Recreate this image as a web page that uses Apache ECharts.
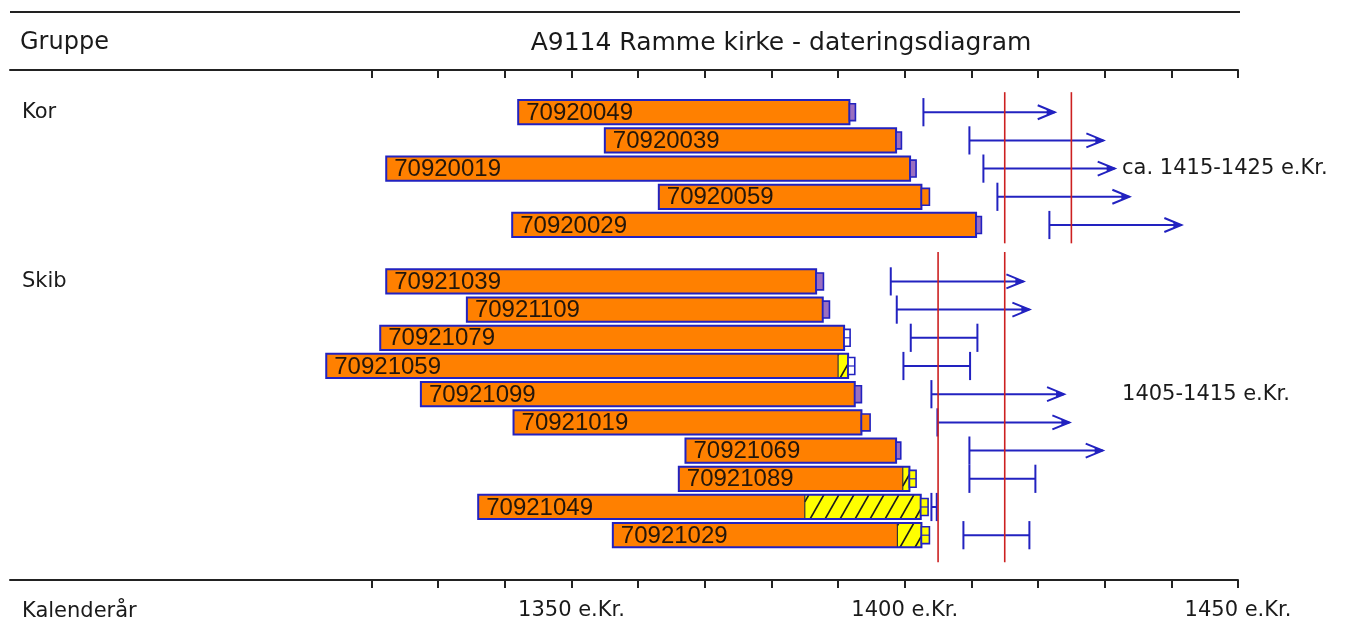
<!DOCTYPE html>
<html>
<head>
<meta charset="utf-8">
<script src="https://cdn.jsdelivr.net/npm/echarts@6/dist/echarts.min.js"></script>
<style>
html,body{margin:0;padding:0;background:#fff;}
#chart{width:1346px;height:632px;}
</style>
</head>
<body>
<div id="chart"></div>
<script>
// ---------- data ----------
const sampleIds = ['70920049','70920039','70920019','70920059','70920029',
  '70921039','70921109','70921079','70921059','70921099','70921019','70921069','70921089','70921049','70921029'];
const sampleGroup = [0,0,0,0,0, 1,1,1,1,1,1,1,1,1,1];
const firstRing = [1342.0,1355.0,1322.2,1363.1,1341.1, 1322.2,1334.3,1321.3,1313.2,1327.4,1341.3,1367.1,1366.1,1336.0,1356.2];
const heartwoodEnd = [1391.7,1398.7,1400.8,1402.5,1410.7, 1386.7,1387.7,1390.9,1390.0,1392.5,1393.5,1398.7,1399.7,1385.0,1398.9];
const sapwoodEnd = [null,null,null,null,null, null,null,null,1391.5,null,null,null,1400.7,1402.4,1402.5];
const lastRingEnd = [1392.6,1399.5,1401.7,1403.7,1411.5, 1387.8,1388.7,1391.8,1392.5,1393.5,1394.8,1399.4,1401.7,1403.5,1403.7];
const lastRingType = ['p','p','p','o','p', 'p','p','w','w','p','o','p','y','y','y'];
const fellingFrom = [1402.8,1409.7,1411.8,1413.9,1421.7, 1397.9,1398.8,1400.9,1399.8,1404.0,1404.9,1409.7,1409.7,1404.0,1408.8];
const fellingTo = [1422.5,1429.8,1431.5,1433.7,1441.5, 1417.8,1418.7,1410.9,1409.8,1423.9,1424.7,1429.7,1419.6,1404.8,1418.7];
const fellingOpen = [true,true,true,true,true, true,true,false,false,true,true,true,false,false,false];

const groupNames = ['Kor','Skib'];
const groupFirstRow = [0, 6];
const groupDating = [[1415,1425],[1405,1415]];
const groupResult = ['ca. 1415-1425 e.Kr.','1405-1415 e.Kr.'];
const groupResultRow = [2, 10];

const tickYears = [1320,1330,1340,1350,1360,1370,1380,1390,1400,1410,1420,1430,1440,1450];
const labelYears = [1350,1400,1450];

const titleText = 'A9114 Ramme kirke - dateringsdiagram';
const groupHeader = 'Gruppe';
const axisName = 'Kalenderår';

// ---------- styles ----------
const ORANGE = '#ff8000', YELLOW = '#ffff00', BLUE = '#2222c0', RED = '#cc2020', TXT = '#1a1a1a';
const boxFill = {p:'#9a6fc0', o:ORANGE, w:'#ffffff', y:YELLOW};
const redOverhang = [[0.71,0.65],[1.04,0.96]];
const resultLabelYear = 1432.6;
const HFONT = '"DejaVu Sans", sans-serif';

// rows
const groupCounts = groupNames.map((g,gi)=>sampleGroup.filter(x=>x===gi).length);
const rows = [];
{ const seen=[0,0]; sampleGroup.forEach(g=>{ rows.push(groupFirstRow[g]+seen[g]); seen[g]++; }); }

function hatch(x1,y1,x2,y2){
  const out=[]; const h=y2-y1; const dx=h*0.57; const sp=15;
  let bx=Math.floor((x1-dx)/sp)*sp;
  for(; bx<x2; bx+=sp){
    const t0=Math.max(0,(x1-bx)/dx), t1=Math.min(1,(x2-bx)/dx);
    if(t1>t0){
      out.push({type:'line',shape:{x1:bx+dx*t0,y1:y2-h*t0,x2:bx+dx*t1,y2:y2-h*t1},
        style:{stroke:'#1a1a1a',lineWidth:1.7}});
    }
  }
  return out;
}

function renderSample(params, api){
  const i = params.dataIndex;
  const row = rows[i];
  const rowH = Math.abs(api.size([0,1])[1]);
  const c = api.coord([firstRing[i], row]);
  const cy = c[1];
  const x0 = c[0];
  const xH = api.coord([heartwoodEnd[i], row])[0];
  const xS = sapwoodEnd[i]!=null ? api.coord([sapwoodEnd[i], row])[0] : xH;
  const xL = api.coord([lastRingEnd[i], row])[0];
  const bh = rowH*0.86;
  const y1 = cy-bh/2, y2 = cy+bh/2;
  const ch = [];
  ch.push({type:'rect',shape:{x:x0,y:y1,width:xH-x0,height:bh},style:{fill:ORANGE}});
  if(sapwoodEnd[i]!=null){
    ch.push({type:'rect',shape:{x:xH,y:y1,width:xS-xH,height:bh},style:{fill:YELLOW}});
    hatch(xH,y1,xS,y2).forEach(l=>ch.push(l));
    ch.push({type:'line',shape:{x1:xH,y1:y1,x2:xH,y2:y2},style:{stroke:'#333',lineWidth:1.2}});
  }
  ch.push({type:'rect',shape:{x:x0,y:y1,width:xS-x0,height:bh},style:{fill:null,stroke:BLUE,lineWidth:2}});
  // last ring box
  const boxH = rowH*0.6;
  ch.push({type:'rect',shape:{x:xS,y:cy-boxH/2,width:Math.max(xL-xS,3),height:boxH},
    style:{fill:boxFill[lastRingType[i]],stroke:BLUE,lineWidth:1.6}});
  if(lastRingType[i]==='w' || (lastRingType[i]==='y' && sapwoodEnd[i]!=null && xL-xS<8)){
    ch.push({type:'line',shape:{x1:xS,y1:cy,x2:xL,y2:cy},style:{stroke:BLUE,lineWidth:1.2}});
  }
  // label
  ch.push({type:'text',style:{x:x0+8,y:cy+1,text:sampleIds[i],fill:'#24160a',
    font:'24px "Liberation Sans", Arial, sans-serif',verticalAlign:'middle',align:'left'}});
  // felling estimate
  const a = api.coord([fellingFrom[i], row])[0];
  const b = api.coord([fellingTo[i], row])[0];
  const tk = rowH*0.5;
  ch.push({type:'line',shape:{x1:a,y1:cy,x2:b,y2:cy},style:{stroke:BLUE,lineWidth:2}});
  ch.push({type:'line',shape:{x1:a,y1:cy-tk,x2:a,y2:cy+tk},style:{stroke:BLUE,lineWidth:2}});
  if(fellingOpen[i]){
    ch.push({type:'polyline',shape:{points:[[b-17,cy-7],[b,cy],[b-17,cy+7]]},style:{stroke:BLUE,lineWidth:2,fill:null}});
    ch.push({type:'polygon',shape:{points:[[b-8,cy-3.5],[b+1,cy],[b-8,cy+3.5]]},style:{fill:BLUE}});
  } else {
    ch.push({type:'line',shape:{x1:b,y1:cy-tk,x2:b,y2:cy+tk},style:{stroke:BLUE,lineWidth:2}});
  }
  return {type:'group',children:ch};
}

function renderGroup(params, api){
  const g = params.dataIndex;
  const first = groupFirstRow[g], last = first + groupCounts[g]-1;
  const ch = [];
  groupDating[g].forEach(yr=>{
    const p1 = api.coord([yr, first-redOverhang[g][0]]);
    const p2 = api.coord([yr, last+redOverhang[g][1]]);
    ch.push({type:'line',shape:{x1:p1[0],y1:p1[1],x2:p2[0],y2:p2[1]},style:{stroke:RED,lineWidth:1.6}});
  });
  const ny = api.coord([1400, first])[1];
  ch.push({type:'text',style:{x:22,y:ny,text:groupNames[g],fill:TXT,font:'21px '+HFONT,verticalAlign:'middle'}});
  const r = api.coord([resultLabelYear, groupResultRow[g]]);
  ch.push({type:'text',style:{x:r[0],y:r[1],text:groupResult[g],fill:TXT,font:'21px '+HFONT,verticalAlign:'middle'}});
  return {type:'group',children:ch};
}

const XMIN = 1265.75, XMAX = 1450;
const chart = echarts.init(document.getElementById('chart'), null, {renderer:'canvas'});
chart.setOption({
  animation:false,
  backgroundColor:'#ffffff',
  grid:{left:10,right:108,top:70,bottom:52,containLabel:false},
  xAxis:[
    {type:'value',position:'bottom',min:XMIN,max:XMAX,
     axisLine:{show:true,onZero:false,lineStyle:{color:'#222',width:2}},
     axisTick:{show:true,inside:false,length:8,customValues:tickYears,lineStyle:{color:'#222',width:2}},
     axisLabel:{show:true,customValues:labelYears,formatter:v=>v+' e.Kr.',color:TXT,fontSize:21,fontFamily:'DejaVu Sans',margin:20},
     splitLine:{show:false}},
    {type:'value',position:'top',min:XMIN,max:XMAX,
     axisLine:{show:true,onZero:false,lineStyle:{color:'#222',width:2}},
     axisTick:{show:true,inside:true,length:8,customValues:tickYears,lineStyle:{color:'#222',width:2}},
     axisLabel:{show:false},splitLine:{show:false}}
  ],
  yAxis:{type:'value',inverse:true,min:-1.4965,max:16.589,show:false},
  graphic:[
    {type:'line',shape:{x1:10,y1:12,x2:1240,y2:12},style:{stroke:'#222',lineWidth:2}},
    {type:'text',x:20,y:43,style:{text:groupHeader,fill:TXT,font:'24px '+HFONT,verticalAlign:'middle'}},
    {type:'text',x:781,y:43,style:{text:titleText,fill:TXT,font:'25px '+HFONT,align:'center',verticalAlign:'middle'}},
    {type:'text',x:22,y:612,style:{text:axisName,fill:TXT,font:'21px '+HFONT,verticalAlign:'middle'}}
  ],
  series:[
    {type:'custom',name:'samples',xAxisIndex:0,yAxisIndex:0,renderItem:renderSample,
     data:sampleIds.map((s,i)=>[firstRing[i], rows[i]]),clip:false,z:2},
    {type:'custom',name:'groups',xAxisIndex:0,yAxisIndex:0,renderItem:renderGroup,
     data:groupNames.map((g,gi)=>[groupDating[gi][0], groupFirstRow[gi]]),clip:false,z:3}
  ]
});
</script>
</body>
</html>
